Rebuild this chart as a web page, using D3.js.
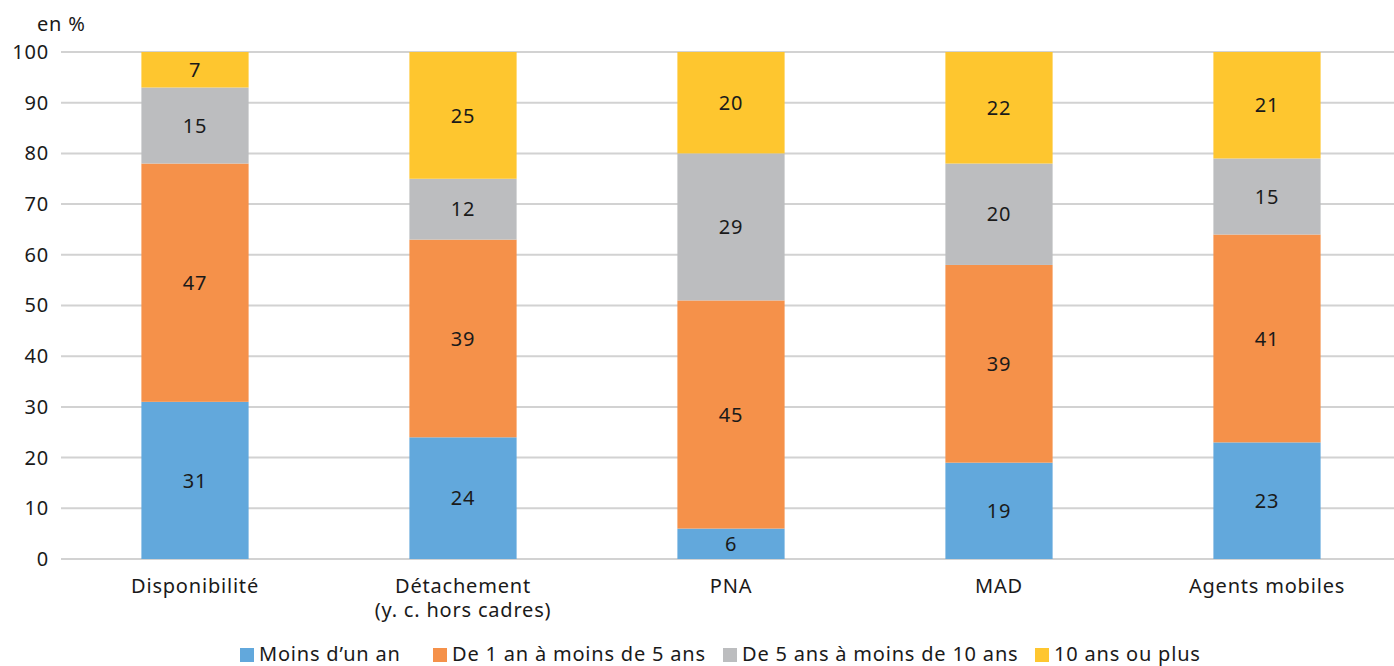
<!DOCTYPE html>
<html>
<head>
<meta charset="utf-8">
<script src="https://cdn.jsdelivr.net/npm/d3@7"></script>
<style>
  html, body { margin: 0; padding: 0; background: #fff; }
  svg { display: block; font-family: "Noto Sans", "Open Sans", sans-serif; letter-spacing: 0.8px; }
</style>
</head>
<body>
<svg id="chart" width="1394" height="666"></svg>
<script>
// Statuts (catégories en abscisse)
const categories = ["Disponibilité", "Détachement\n(y. c. hors cadres)", "PNA", "MAD", "Agents mobiles"];
// Séries (ancienneté dans la position), en %
const seriesNames = ["Moins d’un an", "De 1 an à moins de 5 ans", "De 5 ans à moins de 10 ans", "10 ans ou plus"];
const moinsUnAn   = [31, 24, 6, 19, 23];
const unACinq     = [47, 39, 45, 39, 41];
const cinqADix    = [15, 12, 29, 20, 15];
const dixEtPlus   = [7, 25, 20, 22, 21];
const yTicks = [0, 10, 20, 30, 40, 50, 60, 70, 80, 90, 100];
const colors = ["#62a8dc", "#f5914a", "#bcbdbf", "#fec62f"];

const seriesValues = [moinsUnAn, unACinq, cinqADix, dixEtPlus];
const keys = ["s0", "s1", "s2", "s3"];
const table = categories.map((c, i) => {
  const row = { cat: c };
  keys.forEach((k, j) => row[k] = seriesValues[j][i]);
  return row;
});

const FONT = 20;
const INK = "#1a1a1a";
const svg = d3.select("#chart");

const x = d3.scaleBand().domain(categories).range([61, 1401]).paddingInner(0.6).paddingOuter(0.3);
const y = d3.scaleLinear().domain([0, 100]).range([559, 52]);

// Grille horizontale
svg.append("g").selectAll("line").data(yTicks).join("line")
  .attr("x1", 61).attr("x2", 1394)
  .attr("y1", d => y(d)).attr("y2", d => y(d))
  .attr("stroke", "#d2d2d2").attr("stroke-width", 2);

// Axe Y (libellés)
const yAxis = d3.axisLeft(y).tickValues(yTicks).tickSize(0).tickPadding(0);
const gy = svg.append("g").attr("transform", "translate(49,0)").call(yAxis);
gy.select(".domain").remove();
gy.selectAll("text").attr("font-size", FONT).attr("fill", INK).attr("font-family", "'Noto Sans', sans-serif");

svg.append("text").attr("x", 37).attr("y", 31).attr("font-size", FONT).attr("fill", INK).text("en %");

// Barres empilées
const stack = d3.stack().keys(keys)(table);
const layers = svg.append("g").selectAll("g").data(stack).join("g")
  .attr("fill", (d, i) => colors[i]);
layers.selectAll("rect").data(d => d).join("rect")
  .attr("x", d => x(d.data.cat))
  .attr("width", x.bandwidth())
  .attr("y", d => y(d[1]))
  .attr("height", d => y(d[0]) - y(d[1]));

// Valeurs dans les segments
const lbl = svg.append("g");
stack.forEach(layer => {
  layer.forEach(d => {
    lbl.append("text")
      .attr("x", x(d.data.cat) + x.bandwidth() / 2)
      .attr("y", (y(d[0]) + y(d[1])) / 2)
      .attr("dy", "0.36em")
      .attr("text-anchor", "middle")
      .attr("font-size", FONT)
      .attr("fill", INK)
      .text(d[1] - d[0]);
  });
});

// Axe X (libellés sur une ou deux lignes)
const xAxis = d3.axisBottom(x).tickSize(0).tickFormat("");
const gx = svg.append("g").attr("transform", "translate(0,559)").call(xAxis);
gx.select(".domain").remove();
categories.forEach(c => {
  const cx = x(c) + x.bandwidth() / 2;
  const t = svg.append("text")
    .attr("x", cx)
    .attr("y", 593)
    .attr("text-anchor", "middle")
    .attr("font-size", FONT)
    .attr("fill", INK);
  c.split("\n").forEach((line, i) => {
    t.append("tspan").attr("x", cx).attr("dy", i === 0 ? 0 : 24).text(line);
  });
});

// Légende
const legendX = [240, 433, 723, 1035];
const lg = svg.append("g");
seriesNames.forEach((n, i) => {
  lg.append("rect").attr("x", legendX[i]).attr("y", 648).attr("width", 14).attr("height", 14).attr("fill", colors[i]);
  lg.append("text").attr("x", legendX[i] + 19).attr("y", 661).attr("font-size", FONT).attr("fill", INK).text(n);
});
</script>
</body>
</html>
